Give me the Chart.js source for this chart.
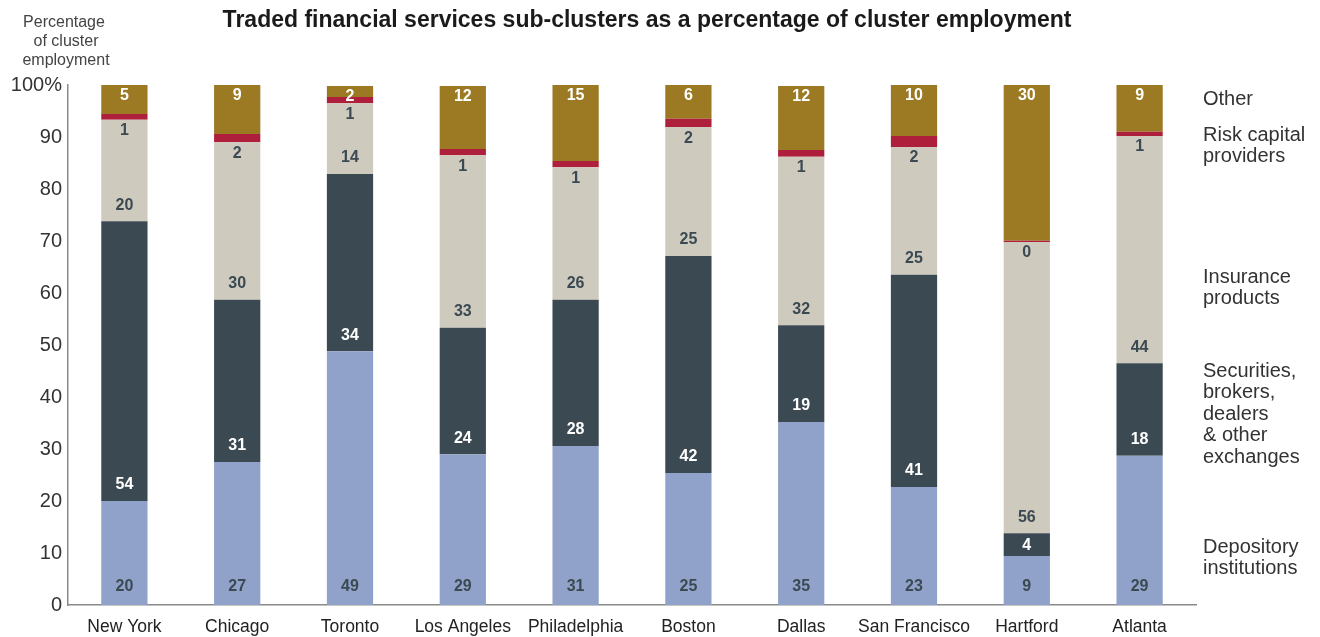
<!DOCTYPE html>
<html>
<head>
<meta charset="utf-8">
<script src="https://cdn.jsdelivr.net/npm/chart.js@4/dist/chart.umd.min.js"></script>
<style>
  html, body { margin: 0; padding: 0; background: #ffffff; }
  #wrap { width: 1320px; height: 637px; position: relative; }
</style>
</head>
<body>
<div id="wrap"><canvas id="c" width="1320" height="637"></canvas></div>
<script>
// ---- Data ----
const categories = ["New York", "Chicago", "Toronto", "Los Angeles", "Philadelphia", "Boston", "Dallas", "San Francisco", "Hartford", "Atlanta"];

const depository = [20.0, 27.5, 48.8, 29.0, 30.6, 25.4, 35.2, 22.7, 9.4, 28.7];
const securities = [53.8, 31.2, 34.1, 24.3, 28.1, 41.7, 18.6, 40.8, 4.4, 17.8];
const insurance  = [19.5, 30.3, 13.6, 33.2, 25.5, 24.8, 32.4, 24.6, 56.0, 43.7];
const riskCapital = [1.1, 1.6, 1.2, 1.2, 1.2, 1.6, 1.3, 2.1, 0.25, 0.8];
const other      = [5.6, 9.4, 2.1, 12.1, 14.6, 6.5, 12.3, 9.8, 30.0, 9.0];

const depositoryLabels = ["20", "27", "49", "29", "31", "25", "35", "23", "9", "29"];
const securitiesLabels = ["54", "31", "34", "24", "28", "42", "19", "41", "4", "18"];
const insuranceLabels  = ["20", "30", "14", "33", "26", "25", "32", "25", "56", "44"];
const riskLabels       = ["1", "2", "1", "1", "1", "2", "1", "2", "0", "1"];
const otherLabels      = ["5", "9", "2", "12", "15", "6", "12", "10", "30", "9"];

const yTickLabels = ["0", "10", "20", "30", "40", "50", "60", "70", "80", "90", "100%"];

const seriesNames = ["Depository institutions", "Securities, brokers, dealers & other exchanges", "Insurance products", "Risk capital providers", "Other"];

// ---- Styles ----
const COLORS = ["#90a2c9", "#3b4a52", "#cecabe", "#ad1f3b", "#9b7a23"];
const LABEL_COLORS = ["#3b4a52", "#ffffff", "#3b4a52", "#3b4a52", "#ffffff"];
const FONT = "'Liberation Sans', Arial, Helvetica, sans-serif";

const seriesData = [depository, securities, insurance, riskCapital, other];
const seriesLabels = [depositoryLabels, securitiesLabels, insuranceLabels, riskLabels, otherLabels];

const datasets = seriesData.map((d, i) => ({
  label: seriesNames[i],
  data: d,
  valueLabels: seriesLabels[i],
  backgroundColor: COLORS[i],
  borderWidth: 0,
  barPercentage: 0.41,
  categoryPercentage: 1.0
}));

const decorPlugin = {
  id: 'decor',
  afterDraw(chart) {
    const ctx = chart.ctx;
    ctx.save();
    // Title
    ctx.fillStyle = '#1a1a1a';
    ctx.font = `bold 23px ${FONT}`;
    ctx.textAlign = 'center';
    ctx.textBaseline = 'middle';
    ctx.fillText('Traded financial services sub-clusters as a percentage of cluster employment', 647, 21);

    // Y-axis title
    ctx.fillStyle = '#444444';
    ctx.font = `16px ${FONT}`;
    ctx.fillText('Percentage', 64, 23);
    ctx.fillText('of cluster', 66, 42);
    ctx.fillText('employment', 66, 61);

    // Right-side legend
    ctx.fillStyle = '#333333';
    ctx.font = `20px ${FONT}`;
    ctx.textAlign = 'left';
    const legendBlocks = [
      { lines: ['Other'], y: 98 },
      { lines: ['Risk capital', 'providers'], y: 134 },
      { lines: ['Insurance', 'products'], y: 276 },
      { lines: ['Securities,', 'brokers,', 'dealers', '& other', 'exchanges'], y: 370 },
      { lines: ['Depository', 'institutions'], y: 546 }
    ];
    legendBlocks.forEach(b => {
      b.lines.forEach((t, k) => ctx.fillText(t, 1203, b.y + 1 + k * 21.6));
    });

    // Value labels
    ctx.font = `bold 16px ${FONT}`;
    ctx.textAlign = 'center';
    ctx.textBaseline = 'middle';
    chart.data.datasets.forEach((ds, di) => {
      const meta = chart.getDatasetMeta(di);
      meta.data.forEach((bar, j) => {
        const top = bar.y, base = bar.base;
        const h = base - top;
        let y;
        if (di === 0) {
          y = base - 19;
        } else if (di === 1 || di === 2) {
          y = base - Math.min(17, h / 2);
        } else if (di === 3) {
          y = base + 10;
        } else {
          y = top + 10;
        }
        ctx.fillStyle = LABEL_COLORS[di];
        ctx.fillText(ds.valueLabels[j], bar.x, y + 1);
      });
    });
    ctx.restore();
  }
};

new Chart(document.getElementById('c'), {
  type: 'bar',
  data: { labels: categories, datasets },
  options: {
    responsive: false,
    animation: false,
    devicePixelRatio: 1,
    layout: { padding: { top: 85, right: 124, bottom: 0, left: 0 } },
    plugins: {
      legend: { display: false },
      title: { display: false },
      tooltip: { enabled: false }
    },
    scales: {
      x: {
        stacked: true,
        grid: { display: false, drawTicks: false },
        border: { display: true, color: '#8a8a8a', width: 1.5 },
        ticks: {
          color: '#222222',
          font: { family: FONT, size: 17.5 },
          padding: 12,
          maxRotation: 0,
          minRotation: 0,
          autoSkip: false
        },
        afterFit(s) { s.height = 32; }
      },
      y: {
        stacked: true,
        min: 0, max: 100,
        grid: { display: false, drawTicks: false },
        border: { display: true, color: '#8a8a8a', width: 1.5 },
        ticks: {
          stepSize: 10,
          color: '#333333',
          font: { family: FONT, size: 20 },
          padding: 6,
          callback: (v) => yTickLabels[Math.round(v / 10)]
        },
        afterFit(s) { s.width = 68; }
      }
    }
  },
  plugins: [decorPlugin]
});
</script>
</body>
</html>
